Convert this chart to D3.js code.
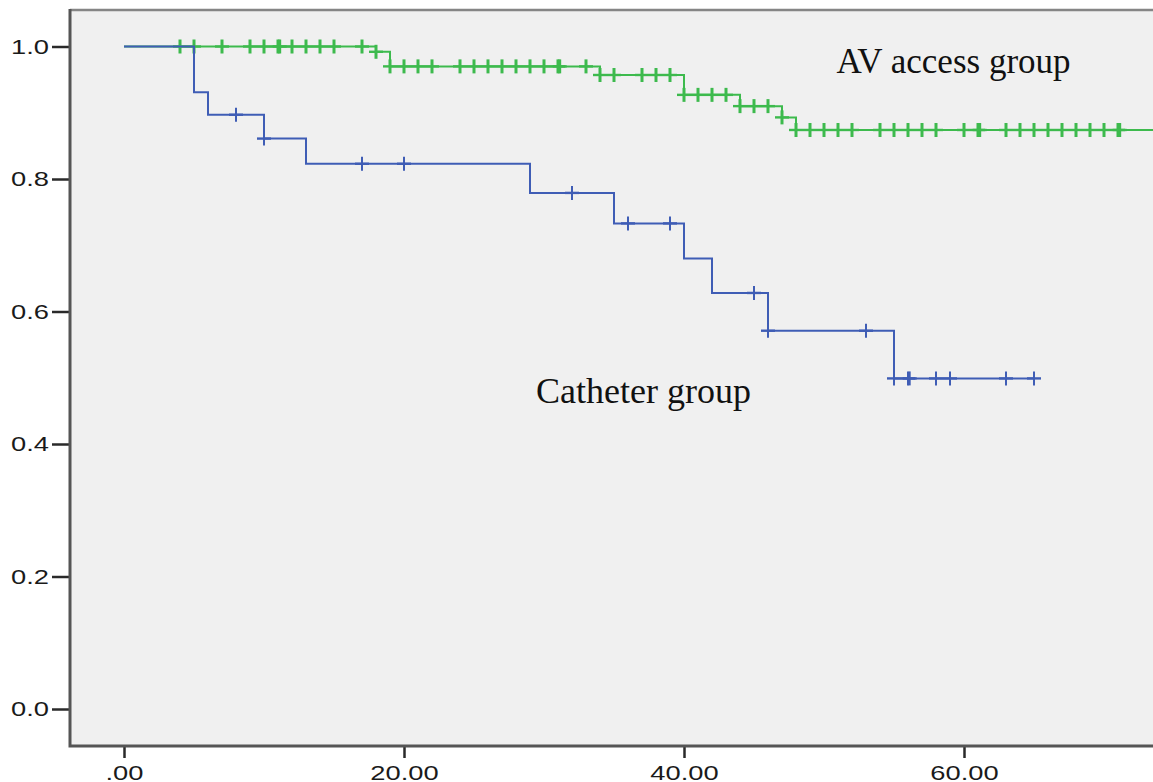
<!DOCTYPE html>
<html>
<head>
<meta charset="utf-8">
<script src="https://cdn.jsdelivr.net/npm/d3@7"></script>
<style>
  html, body { margin: 0; padding: 0; background: #ffffff; }
  svg { display: block; }
  .tick text { font-family: "Liberation Sans", Arial, sans-serif; font-size: 21px; fill: #1a1a1a; }
  .group-label { font-family: "Palatino Linotype", "Book Antiqua", Palatino, "Liberation Serif", serif; font-size: 35px; fill: #111; }
</style>
</head>
<body>
<div id="viz"></div>
<script>
const width = 1153;
const height = 782;

// Kaplan-Meier steps (time, survival after the event)
const catheterEventTimes = [5, 6, 10, 13, 29, 35, 40, 42, 46, 55];
const catheterSurvival = [0.931, 0.897, 0.861, 0.823, 0.779, 0.733, 0.680, 0.628, 0.571, 0.499];
const catheterCensored = [8, 10, 17, 20, 32, 36, 39, 45, 46, 53, 55, 56, 56.12, 58, 59, 63, 65];
const catheterEnd = 65;

const avEventTimes = [18, 19, 34, 40, 44, 47, 48];
const avSurvival = [0.992, 0.970, 0.957, 0.927, 0.910, 0.893, 0.874];
const avCensored = [4, 5, 7, 9, 10, 11, 11.12, 12, 13, 14, 15, 17, 18, 19, 20, 21, 22,
  24, 25, 26, 27, 28, 29, 30, 31, 31.12, 33, 34, 35, 37, 38, 39, 40, 41, 42, 43, 44,
  45, 46, 47, 48, 49, 50, 51, 52, 54, 55, 56, 57, 58, 60, 61, 61.12, 63, 64, 65, 66,
  67, 68, 69, 70, 71, 71.12];
const avEnd = 75;

const xTicks = [0, 20, 40, 60];
const yTicks = [0, 0.2, 0.4, 0.6, 0.8, 1.0];

const frame = { left: 70, top: 10, bottom: 746 };

const svg = d3.select("#viz")
  .append("svg")
    .attr("width", width)
    .attr("height", height);

const x = d3.scaleLinear()
  .domain([0, 60])
  .range([124, 964]);

const y = d3.scaleLinear()
  .domain([0, 1])
  .range([709, 46.5]);

// plot background
svg.append("rect")
  .attr("x", frame.left)
  .attr("y", frame.top)
  .attr("width", width - frame.left + 10)
  .attr("height", frame.bottom - frame.top)
  .attr("fill", "#f0f0f0");

// top border
svg.append("line")
  .attr("x1", frame.left).attr("x2", width + 5)
  .attr("y1", frame.top).attr("y2", frame.top)
  .attr("stroke", "#858585")
  .attr("stroke-width", 2.5);

function stepPoints(times, surv, end) {
  const pts = [[0, 1]];
  times.forEach((t, i) => pts.push([t, surv[i]]));
  pts.push([end, surv[surv.length - 1]]);
  return pts;
}

// survival at time t (events at t included)
function survivalAt(times, surv, t) {
  const i = d3.bisectRight(times, t);
  return i === 0 ? 1 : surv[i - 1];
}

const line = d3.line()
  .x(d => x(d[0]))
  .y(d => y(d[1]))
  .curve(d3.curveStepAfter);

function drawGroup(times, surv, censored, end, color, markWidth) {
  const g = svg.append("g");

  g.append("path")
    .datum(stepPoints(times, surv, end))
    .attr("d", line)
    .attr("fill", "none")
    .attr("stroke", color)
    .attr("stroke-width", 2);

  const marks = g.selectAll(".censor")
    .data(censored)
    .join("g")
      .attr("class", "censor")
      .attr("transform", t => `translate(${x(t)},${y(survivalAt(times, surv, t))})`);

  marks.append("line")
    .attr("x1", 0).attr("x2", 0)
    .attr("y1", -7).attr("y2", 7)
    .attr("stroke", color)
    .attr("stroke-width", markWidth);

  marks.append("line")
    .attr("x1", -7).attr("x2", 7)
    .attr("y1", 0).attr("y2", 0)
    .attr("stroke", color)
    .attr("stroke-width", 2.4);
}

drawGroup(avEventTimes, avSurvival, avCensored, avEnd, "#3dba4d", 3);
drawGroup(catheterEventTimes, catheterSurvival, catheterCensored, catheterEnd, "#3f5db5", 2);

// axes
const yAxis = svg.append("g")
  .attr("transform", `translate(${frame.left},0)`)
  .call(d3.axisLeft(y)
    .tickValues(yTicks)
    .tickFormat(d3.format(".1f"))
    .tickSize(18)
    .tickPadding(3));

const xAxis = svg.append("g")
  .attr("transform", `translate(0,${frame.bottom})`)
  .call(d3.axisBottom(x)
    .tickValues(xTicks)
    .tickFormat(d => d === 0 ? ".00" : d3.format(".2f")(d))
    .tickSize(12)
    .tickPadding(7));

[yAxis, xAxis].forEach(ax => {
  ax.select(".domain").remove();
  ax.selectAll(".tick line").attr("stroke", "#2a2a2a").attr("stroke-width", 2.5);
  // the source picture is stretched sideways, so widen the glyphs a bit
  ax.selectAll(".tick text").each(function () {
    const len = this.getComputedTextLength();
    d3.select(this)
      .attr("textLength", len * 1.3)
      .attr("lengthAdjust", "spacingAndGlyphs");
  });
});

// left and bottom frame lines
svg.append("path")
  .attr("d", `M${frame.left},${frame.top - 1}V${frame.bottom}H${width + 5}`)
  .attr("fill", "none")
  .attr("stroke", "#555555")
  .attr("stroke-width", 3);

// group labels
svg.append("text")
  .attr("class", "group-label")
  .attr("x", x(50.9))
  .attr("y", y(0.9596))
  .text("AV access group");

svg.append("text")
  .attr("class", "group-label")
  .attr("x", x(29.43))
  .attr("y", y(0.4614))
  .style("font-size", "36px")
  .text("Catheter group");
</script>
</body>
</html>
